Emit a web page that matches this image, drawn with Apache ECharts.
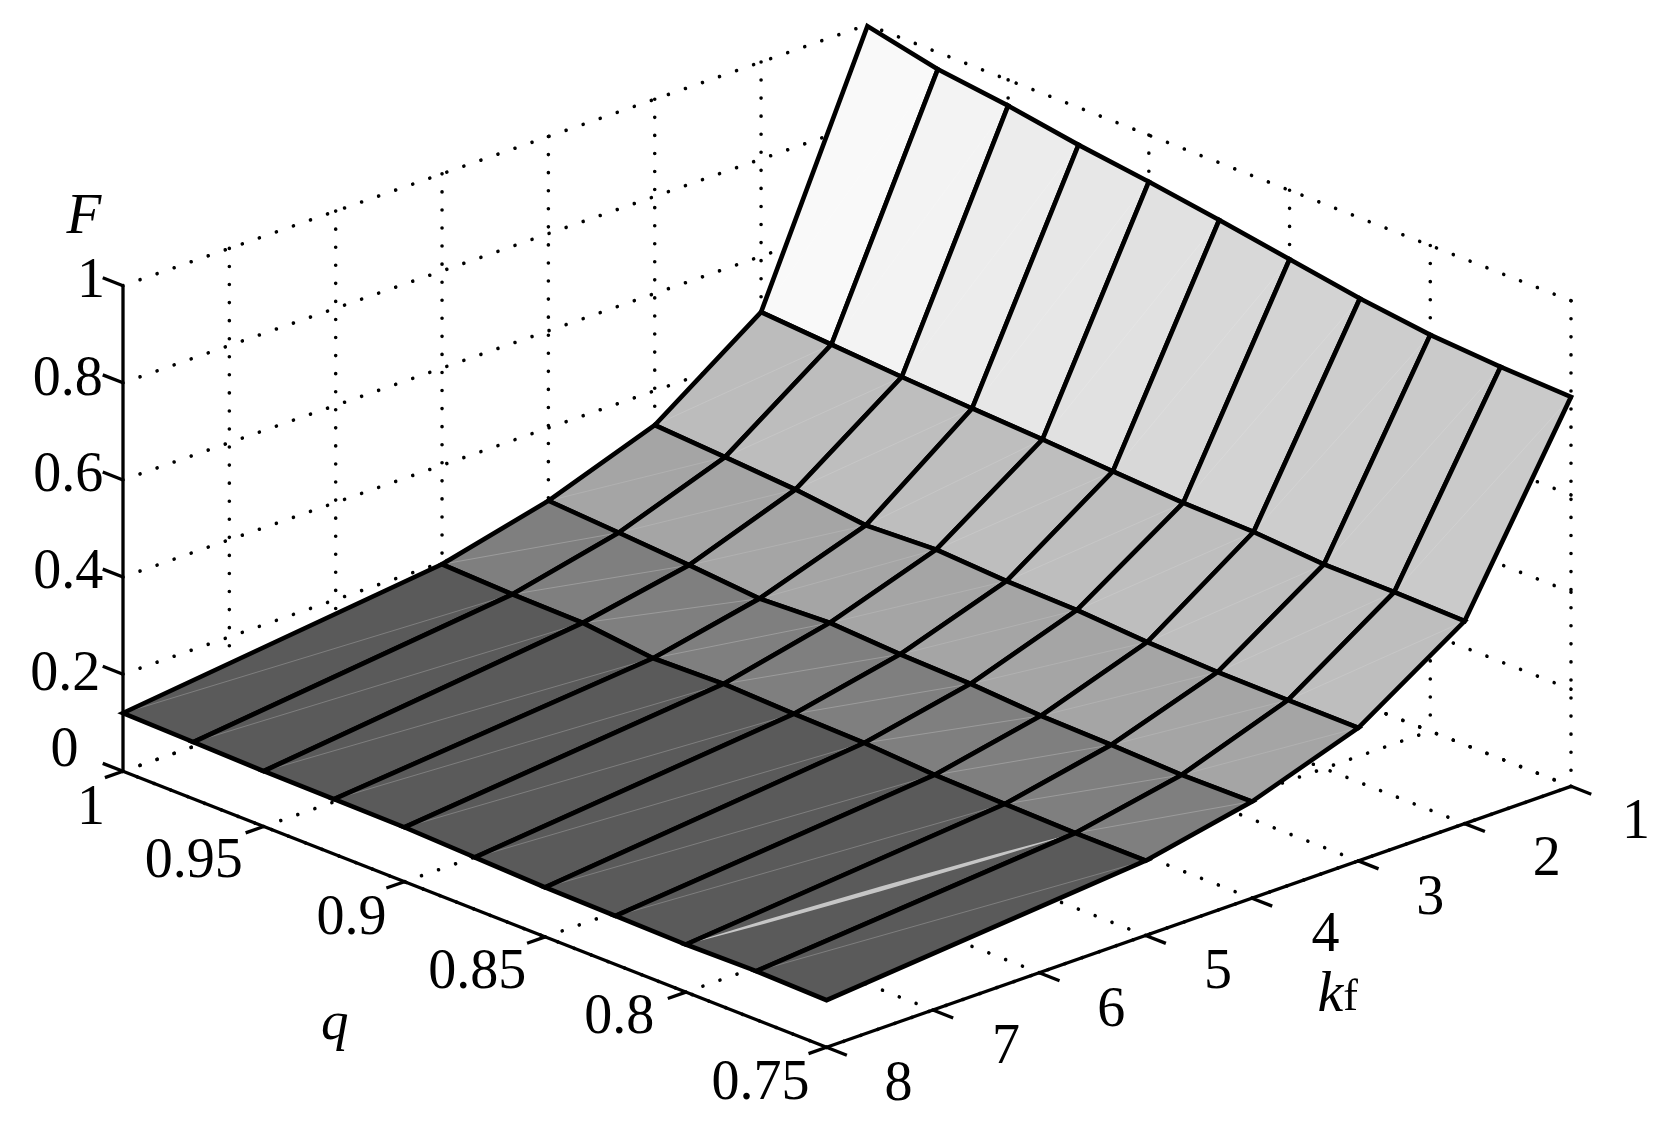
<!DOCTYPE html>
<html>
<head>
<meta charset="utf-8">
<style>html,body{margin:0;padding:0;background:#fff}#c{width:1668px;height:1131px}</style>
<script src="https://cdn.jsdelivr.net/npm/echarts@6/dist/echarts.min.js"></script>
</head>
<body>
<div id="c"></div>
<script>
// ---------- data ----------
var qValues = [1, 0.975, 0.95, 0.925, 0.9, 0.875, 0.85, 0.825, 0.8, 0.775, 0.75];
var kValues = [1, 2, 3, 4, 5, 8];
var F_k1 = [0.997, 0.965, 0.947, 0.923, 0.904, 0.882, 0.858, 0.834, 0.816, 0.807, 0.802];
var F_k2 = [0.485, 0.475, 0.465, 0.457, 0.450, 0.441, 0.433, 0.430, 0.420, 0.420, 0.417];
var F_k3 = [0.329, 0.320, 0.310, 0.293, 0.300, 0.292, 0.289, 0.280, 0.275, 0.274, 0.274];
var F_k4 = [0.250, 0.241, 0.231, 0.219, 0.226, 0.218, 0.214, 0.205, 0.202, 0.197, 0.199];
var F_k5 = [0.196, 0.191, 0.189, 0.173, 0.177, 0.172, 0.169, 0.160, 0.157, 0.154, 0.154];
var F_k8 = [0.120, 0.117, 0.114, 0.113, 0.112, 0.107, 0.102, 0.100, 0.098, 0.100, 0.097];
var surfaceF = [F_k1, F_k2, F_k3, F_k4, F_k5, F_k8];

// gray level of each panel, row by row (k band), column by column (q band)
var shade_k1 = [249, 243, 236, 231, 225, 216, 211, 205, 202, 202];
var shade_k2 = [188, 189, 190, 190, 190, 190, 190, 190, 190, 190];
var shade_k3 = [165, 165, 165, 165, 165, 165, 165, 165, 165, 165];
var shade_k4 = [127, 127, 127, 127, 127, 127, 127, 127, 127, 127];
var shade_k5 = [90, 90, 90, 90, 90, 90, 90, 90, 90, 90];
var panelShades = [shade_k1, shade_k2, shade_k3, shade_k4, shade_k5];

var fTicks = [0, 0.2, 0.4, 0.6, 0.8, 1];
var fTickLabels = ['0', '0.2', '0.4', '0.6', '0.8', '1'];
var qTicks = [1, 0.95, 0.9, 0.85, 0.8, 0.75];
var qTickLabels = ['1', '0.95', '0.9', '0.85', '0.8', '0.75'];
var kTicks = [1, 2, 3, 4, 5, 6, 7, 8];
var kTickLabels = ['1', '2', '3', '4', '5', '6', '7', '8'];

// ---------- layout of the view (orthographic projection onto the unit plot) ----------
var qMin = 0.75, qMax = 1, kMin = 1, kMax = 8;
var W_uq = 0.4859, W_uk = 0.5141;              // horizontal share of q and k axes
var W_vq = 0.2699, W_vk = 0.2552, W_vf = 0.4749; // vertical share of q, k and F axes
function U(q, k) { return (qMax - q) / (qMax - qMin) * W_uq + (kMax - k) / (kMax - kMin) * W_uk; }
function V(q, k, f) { return (q - qMin) / (qMax - qMin) * W_vq + (kMax - k) / (kMax - kMin) * W_vk + f * W_vf; }
function P(q, k, f) { return [U(q, k), V(q, k, f)]; }

var fLabelOffset = [[-58.5, -20.1], [-57.8, 1.5], [-54.7, -3.5], [-54.7, -3.5], [-55.3, -2], [-32, -3.7]];
var qLabelOffset = [[-32, 37.5], [-70, 36], [-53, 37.5], [-68, 36.5], [-66.7, 26], [-66, 36.5]];
var kLabelOffset = [[65, 36.5], [82, 36.5], [72, 38.5], [73.6, 38.5], [72.4, 38], [72, 38.5], [73, 38.5], [72, 37.5]];
var serif = '"Liberation Serif","Times New Roman",serif';
var tickFont = '56px ' + serif;

// ---------- derived marks ----------
var dotted = [];
function seg(list, a, b) { list.push([a[0], a[1], b[0], b[1]]); }
fTicks.forEach(function (f) {
  seg(dotted, P(1, 8, f), P(1, 1, f));
  seg(dotted, P(0.75, 1, f), P(1, 1, f));
});
kTicks.forEach(function (k) {
  if (k > 1 && k < 8) seg(dotted, P(1, k, 1), P(1, k, 0));
  if (k > 1) seg(dotted, P(0.75, k, 0), P(1, k, 0));
});
qTicks.forEach(function (q) {
  if (q < 1) seg(dotted, P(q, 1, 1), P(q, 1, 0));
  seg(dotted, P(q, 8, 0), P(q, 1, 0));
});
seg(dotted, P(0.75, 1, 0), P(1, 1, 0));

var solid = [];
seg(solid, P(1, 8, 0), P(1, 8, 1));
seg(solid, P(1, 8, 0), P(0.75, 8, 0));
seg(solid, P(0.75, 8, 0), P(0.75, 1, 0));
var fTickLen = 0.0072, qTickLen = 0.17, kTickLen = 0.0072;
fTicks.forEach(function (f) { seg(solid, P(1, 8, f), P(1 + fTickLen, 8, f)); });
qTicks.forEach(function (q) { seg(solid, P(q, 8, 0), P(q, 8 + qTickLen, 0)); });
kTicks.forEach(function (k) { seg(solid, P(0.75, k, 0), P(0.75 - kTickLen, k, 0)); });

var panels = [];
for (var r = 0; r < kValues.length - 1; r++) {
  for (var c = 0; c < qValues.length - 1; c++) {
    var a = P(qValues[c], kValues[r], surfaceF[r][c]);
    var b = P(qValues[c + 1], kValues[r], surfaceF[r][c + 1]);
    var d = P(qValues[c + 1], kValues[r + 1], surfaceF[r + 1][c + 1]);
    var e = P(qValues[c], kValues[r + 1], surfaceF[r + 1][c]);
    panels.push([a[0], a[1], b[0], b[1], d[0], d[1], e[0], e[1], panelShades[r][c], (r === 4 && c === 8) ? 1 : 0]);
  }
}

var labels = [];
fTicks.forEach(function (f, i) { labels.push({ p: P(1, 8, f), o: fLabelOffset[i], t: fTickLabels[i] }); });
qTicks.forEach(function (q, i) { labels.push({ p: P(q, 8, 0), o: qLabelOffset[i], t: qTickLabels[i] }); });
kTicks.forEach(function (k, i) { labels.push({ p: P(0.75, k, 0), o: kLabelOffset[i], t: kTickLabels[i] }); });
var labelData = labels.map(function (l) { return [l.p[0], l.p[1]]; });

function segItem(style) {
  return function (params, api) {
    var s = api.coord([api.value(0), api.value(1)]);
    var t = api.coord([api.value(2), api.value(3)]);
    return { type: 'polyline', shape: { points: [s, t] }, style: style, silent: true };
  };
}

function panelItem(params, api) {
  var A = api.coord([api.value(0), api.value(1)]);
  var B = api.coord([api.value(2), api.value(3)]);
  var D = api.coord([api.value(4), api.value(5)]);
  var E = api.coord([api.value(6), api.value(7)]);
  var g = api.value(8);
  var children = [
    { type: 'polygon', shape: { points: [A, B, D, E] },
      style: { fill: 'rgb(' + g + ',' + g + ',' + g + ')', stroke: 'none' } }
  ];
  if (api.value(9) === 1) {
    // the wider light seam of one dark panel
    var w = 2.4;
    var at = function (f, off) { return [E[0] + (B[0] - E[0]) * f, E[1] + (B[1] - E[1]) * f + off]; };
    children.push({ type: 'polygon',
      shape: { points: [E, at(0.2, -w * 0.7), at(0.5, -w), at(0.8, -w * 0.7), B, at(0.8, w * 0.7), at(0.5, w), at(0.2, w * 0.7)] },
      style: { fill: '#c6c6c6', stroke: 'none' } });
  } else {
    children.push({ type: 'polyline', shape: { points: [E, B] },
      style: { stroke: 'rgba(255,255,255,' + (g < 150 ? 0.28 : 0.16) + ')', lineWidth: 0.8, fill: 'none' } });
  }
  children.push({ type: 'polygon', shape: { points: [A, B, D, E] },
    style: { fill: 'none', stroke: '#000', lineWidth: 4.6, lineJoin: 'miter' } });
  return { type: 'group', children: children, silent: true };
}

function labelItem(params, api) {
  var l = labels[params.dataIndex];
  var p = api.coord([api.value(0), api.value(1)]);
  return { type: 'text', silent: true,
    style: { text: l.t, x: p[0] + l.o[0], y: p[1] + l.o[1], font: tickFont, fill: '#000', align: 'center', verticalAlign: 'middle' } };
}

var titleAnchors = [P(1, 8, 1), P(0.875, 8, 0), P(0.75, 4.5, 0)];
function titleItem(params, api) {
  var p = api.coord([api.value(0), api.value(1)]);
  var i = params.dataIndex;
  if (i === 0) return { type: 'text', silent: true, style: { text: 'F', x: p[0] - 39, y: p[1] - 68, font: 'italic 57px ' + serif, fill: '#000', align: 'center', verticalAlign: 'middle' } };
  if (i === 1) return { type: 'text', silent: true, style: { text: 'q', x: p[0] - 140, y: p[1] + 115, font: 'italic 55px ' + serif, fill: '#000', align: 'center', verticalAlign: 'middle' } };
  return { type: 'text', silent: true, style: { text: '{k|k}{f|f}', x: p[0] + 139, y: p[1] + 79, align: 'center', verticalAlign: 'middle',
    rich: { k: { fontFamily: serif, fontStyle: 'italic', fontSize: 58, fill: '#000' }, f: { fontFamily: serif, fontSize: 44, fill: '#000', padding: [6, 0, 0, 0] } } } };
}

var chart = echarts.init(document.getElementById('c'), null, { renderer: 'canvas' });
chart.setOption({
  animation: false,
  backgroundColor: '#fff',
  tooltip: { show: false },
  grid: { left: 123, top: 24.7, width: 1448, height: 1022.6 },
  xAxis: { type: 'value', min: 0, max: 1, show: false },
  yAxis: { type: 'value', min: 0, max: 1, show: false },
  series: [
    { type: 'custom', name: 'grid', z: 1, clip: false, data: dotted, renderItem: segItem({ stroke: '#000', lineWidth: 3.6, lineCap: 'round', lineDash: [0.01, 18.05], fill: 'none' }) },
    { type: 'custom', name: 'axes', z: 2, clip: false, data: solid, renderItem: segItem({ stroke: '#000', lineWidth: 3.3, fill: 'none' }) },
    { type: 'custom', name: 'F', z: 3, clip: false, data: panels, renderItem: panelItem },
    { type: 'custom', name: 'tick labels', z: 4, clip: false, data: labelData, renderItem: labelItem },
    { type: 'custom', name: 'axis names', z: 4, clip: false, data: titleAnchors, renderItem: titleItem }
  ]
});
</script>
</body>
</html>
